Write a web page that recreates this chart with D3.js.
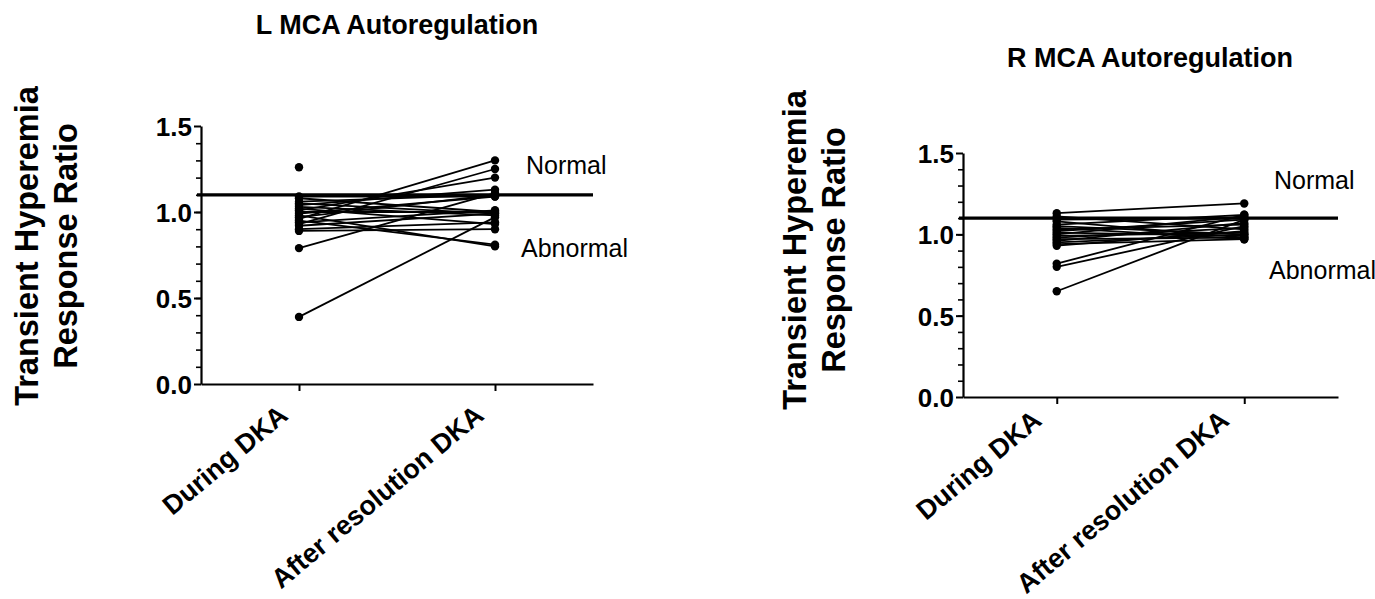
<!DOCTYPE html>
<html>
<head>
<meta charset="utf-8">
<script src="https://cdn.jsdelivr.net/npm/d3@7"></script>
<style>
  body { margin: 0; background: #fff; }
  svg { display: block; font-family: "Liberation Sans", Arial, sans-serif; }
</style>
</head>
<body>
<div id="graph"></div>
<script>
// categories on the x axis
var groups = ["During DKA", "After resolution DKA"];

// y ticks shared by both panels
var yTicks = [0, 0.5, 1.0, 1.5];
var threshold = 1.1; // cut-off between Normal / Abnormal

// left MCA, paired values (null = no follow-up)
var lDuring = [1.26, 1.09, 1.08, 1.06, 1.05, 1.04, 1.03, 1.02, 1.01, 1.00, 0.99,
               0.98, 0.97, 0.96, 0.95, 0.94, 0.93, 0.92, 0.90, 0.89, 0.79, 0.39];
var lAfter  = [null, 1.09, 1.00, 1.10, 0.99, 1.13, 0.98, 0.93, 1.20, 1.00, 1.09,
               0.80, 1.10, 1.30, 0.81, 1.01, 1.25, 0.99, 0.94, 0.90, 1.11, 0.97];

// right MCA, paired values
var rDuring = [1.13, 1.11, 1.09, 1.08, 1.06, 1.05, 1.04, 1.03, 1.02, 1.01, 1.00,
               0.99, 0.98, 0.97, 0.96, 0.95, 0.94, 0.93, 0.82, 0.80, 0.65];
var rAfter  = [1.19, 1.03, 1.10, 0.98, 1.12, 1.00, 0.97, 1.06, 1.09, 0.99, 1.11,
               1.01, 1.04, 0.98, 1.07, 1.00, 0.97, 1.02, 1.12, 1.05, 1.09];

var w = 1375, h = 599;

var svg = d3.select("#graph")
            .append("svg")
            .attr("width", w)
            .attr("height", h);

// one panel per side
function drawPanel(p) {
  var x = d3.scalePoint()
            .domain(groups)
            .range([p.left, p.right])
            .padding(0.5);

  var y = d3.scaleLinear()
            .domain([0, 1.5])
            .range([p.bottom, p.top]);

  var g = svg.append("g");

  // title
  g.append("text")
    .attr("x", p.titleX)
    .attr("y", p.titleY)
    .attr("text-anchor", "middle")
    .attr("font-size", "27px")
    .attr("font-weight", "bold")
    .text(p.title);

  // y axis title, two lines
  ["Transient Hyperemia", "Response Ratio"].forEach(function(t, i) {
    g.append("text")
      .attr("transform", "translate(" + (p.labelX + i * 39) + "," + p.labelY + ") rotate(-90)")
      .attr("text-anchor", "middle")
      .attr("font-size", "32.5px")
      .attr("font-weight", "bold")
      .text(t);
  });

  // minor ticks first so the major ones sit on top
  var minor = d3.range(1, 15).map(function(d){ return d / 10; })
                .filter(function(d){ return d % 5 !== 0; });
  g.append("g")
    .attr("transform", "translate(" + p.left + ",0)")
    .call(d3.axisLeft(y).tickValues(minor).tickSize(5).tickSizeOuter(0).tickFormat(""))
    .call(function(a){ a.select(".domain").remove(); })
    .selectAll("line").attr("stroke-width", 1.6);

  var yAxis = g.append("g")
    .attr("transform", "translate(" + p.left + ",0)")
    .call(d3.axisLeft(y).tickValues(yTicks).tickSize(7).tickSizeOuter(0)
            .tickFormat(d3.format(".1f")));
  yAxis.select(".domain").attr("stroke-width", 2.2);
  yAxis.selectAll("line").attr("stroke-width", 2);
  yAxis.selectAll("text")
    .attr("font-size", "26px")
    .attr("font-weight", "bold")
    .attr("font-family", "Liberation Sans, Arial, sans-serif")
    .attr("fill", "#000")
    .attr("x", -9)
    .attr("dy", "0.36em");

  var xAxis = g.append("g")
    .attr("transform", "translate(0," + p.bottom + ")")
    .call(d3.axisBottom(x).tickSize(7).tickSizeOuter(0));
  xAxis.select(".domain").attr("stroke-width", 2.2);
  xAxis.selectAll("line").attr("stroke-width", 2);
  xAxis.selectAll("text")
    .attr("font-size", "27px")
    .attr("font-weight", "bold")
    .attr("font-family", "Liberation Sans, Arial, sans-serif")
    .attr("fill", "#000")
    .attr("text-anchor", "end")
    .attr("dy", null)
    .attr("y", null)
    .attr("transform", "translate(" + p.tickDx + "," + p.tickDy + ") rotate(-40)");

  // threshold line
  g.append("line")
    .attr("x1", p.left - 4)
    .attr("x2", p.right)
    .attr("y1", y(threshold))
    .attr("y2", y(threshold))
    .attr("stroke", "#000")
    .attr("stroke-width", 3.2);

  // paired lines
  var pairs = p.before.map(function(d, i){ return [d, p.after[i]]; });
  g.selectAll(".pair")
    .data(pairs.filter(function(d){ return d[0] != null && d[1] != null; }))
    .enter()
    .append("line")
    .attr("x1", x(groups[0]))
    .attr("x2", x(groups[1]))
    .attr("y1", function(d){ return y(d[0]); })
    .attr("y2", function(d){ return y(d[1]); })
    .attr("stroke", "#000")
    .attr("stroke-width", 1.8);

  // dots
  var pts = [];
  pairs.forEach(function(d){
    if (d[0] != null) pts.push([groups[0], d[0]]);
    if (d[1] != null) pts.push([groups[1], d[1]]);
  });
  g.selectAll(".dot")
    .data(pts)
    .enter()
    .append("circle")
    .attr("cx", function(d){ return x(d[0]); })
    .attr("cy", function(d){ return y(d[1]); })
    .attr("r", 4.2)
    .attr("fill", "#000");

  // region labels
  g.append("text")
    .attr("x", p.noteX + 5)
    .attr("y", p.normalY)
    .attr("font-size", "25px")
    .text("Normal");
  g.append("text")
    .attr("x", p.noteX)
    .attr("y", p.abnormalY)
    .attr("font-size", "25px")
    .text("Abnormal");
}

drawPanel({
  title: "L MCA Autoregulation", titleX: 397, titleY: 34,
  labelX: 38, labelY: 246,
  left: 201, right: 593, top: 126, bottom: 384,
  tickDx: -10, tickDy: 34,
  before: lDuring, after: lAfter,
  noteX: 521, normalY: 174, abnormalY: 257
});

drawPanel({
  title: "R MCA Autoregulation", titleX: 1150, titleY: 67,
  labelX: 806, labelY: 250,
  left: 963, right: 1338, top: 153, bottom: 397,
  tickDx: -14, tickDy: 26,
  before: rDuring, after: rAfter,
  noteX: 1269, normalY: 189, abnormalY: 279
});
</script>
</body>
</html>
